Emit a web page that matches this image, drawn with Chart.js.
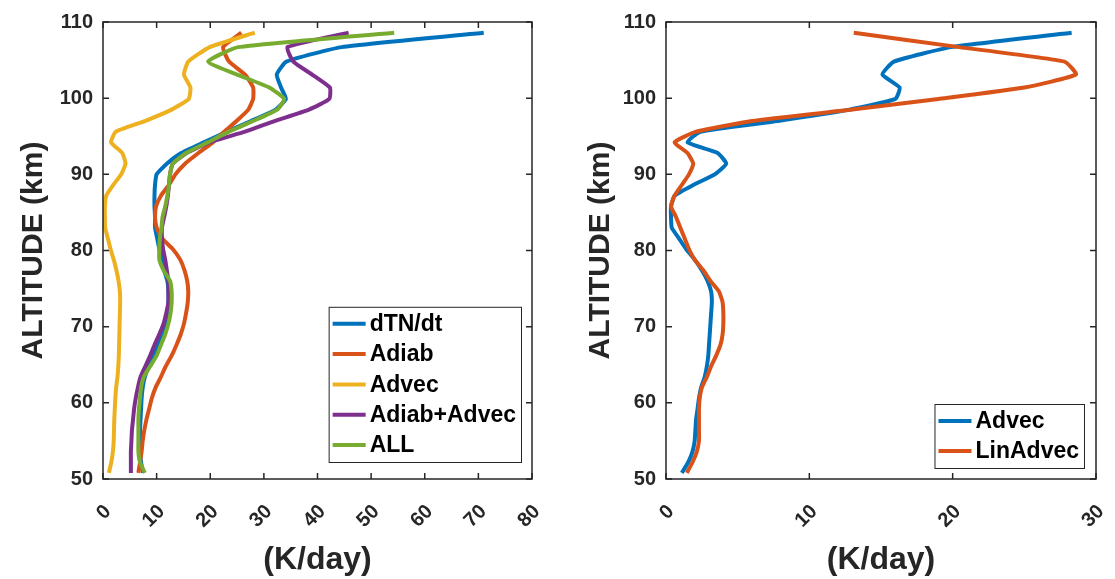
<!DOCTYPE html>
<html lang="en">
<head>
<meta charset="UTF-8">
<title>Heating terms</title>
<style>
  body { margin: 0; background: #fff; }
  .panel { position: absolute; top: 0; height: 579px; }
</style>
</head>
<body>
<div class="panel" style="left:0;width:557px;"><canvas id="leftChart"></canvas></div>
<div class="panel" style="left:557px;width:558px;"><canvas id="rightChart"></canvas></div>
<script src="https://cdn.jsdelivr.net/npm/chart.js"></script>
<script>
// altitude levels (km), top to bottom
const altitude = [108.6, 106.7, 104.8, 103.1, 101.4, 99.9, 98.5, 97.0, 95.6, 94.2,
  92.8, 91.4, 90.0, 88.6, 87.2, 85.8, 84.4, 83.0, 81.6, 80.2,
  78.8, 77.4, 76.0, 74.6, 73.2, 71.8, 70.4, 69.0, 67.6, 66.2,
  64.8, 63.4, 62.0, 60.6, 59.2, 57.8, 56.4, 55.0, 53.6, 52.2, 50.8];

// heating rates (K/day)
const dTNdt = [71.0, 44.5, 34.2, 32.4, 33.2, 34.1, 32.2, 27.6, 23.1, 18.8,
  14.6, 11.9, 10.0, 9.7, 9.6, 9.6, 9.7, 9.7, 10.1, 10.5,
  11.0, 11.4, 12.0, 12.2, 12.2, 12.0, 11.6, 11.0, 10.3, 9.4,
  8.5, 7.8, 7.4, 7.2, 7.1, 7.0, 6.9, 6.9, 6.9, 7.1, 7.5];
const adiab = [25.8, 22.4, 23.5, 26.5, 28.0, 28.0, 27.1, 24.9, 22.6, 20.5,
  17.8, 15.3, 13.5, 12.3, 10.8, 9.9, 9.7, 10.0, 11.0, 13.0,
  14.4, 15.2, 15.7, 15.9, 15.8, 15.5, 15.1, 14.5, 13.7, 12.8,
  11.7, 10.8, 9.8, 9.1, 8.6, 8.1, 7.7, 7.4, 7.2, 6.9, 6.6];
const advec = [28.3, 19.9, 15.9, 15.1, 16.3, 16.0, 12.8, 7.8, 2.4, 1.5,
  3.6, 4.2, 3.4, 1.9, 0.6, 0.35, 0.35, 0.4, 0.9, 1.4,
  2.0, 2.5, 2.9, 3.15, 3.2, 3.15, 3.1, 3.05, 3.0, 2.95,
  2.85, 2.7, 2.45, 2.3, 2.2, 2.1, 2.05, 2.0, 1.85, 1.55, 1.1];
const adiabAdvec = [45.8, 34.4, 35.5, 39.0, 42.3, 42.2, 38.4, 32.0, 26.5, 19.8,
  15.6, 13.0, 12.5, 12.3, 12.1, 11.8, 11.4, 11.0, 11.0, 11.2,
  11.6, 11.9, 12.2, 12.2, 12.2, 11.8, 11.3, 10.5, 9.6, 8.8,
  7.9, 7.0, 6.5, 6.1, 5.8, 5.6, 5.4, 5.3, 5.2, 5.2, 5.2];
const allTerms = [54.3, 25.2, 19.6, 25.0, 31.0, 33.8, 32.5, 28.0, 23.5, 19.5,
  15.5, 13.0, 12.5, 12.3, 12.0, 11.6, 11.1, 10.9, 10.6, 10.5,
  10.5, 11.3, 12.5, 12.8, 12.8, 12.6, 12.2, 11.6, 10.8, 10.0,
  8.8, 7.6, 7.1, 6.9, 6.7, 6.6, 6.6, 6.6, 6.6, 6.9, 7.8];
const linAdvec = [13.1, 20.45, 27.8, 28.6, 25.0, 19.0, 13.0, 6.0, 2.1, 0.6,
  1.5, 1.9, 1.6, 1.1, 0.6, 0.35, 0.7, 1.0, 1.3, 1.6,
  2.0, 2.6, 3.1, 3.7, 3.95, 4.0, 4.0, 3.95, 3.8, 3.5,
  3.15, 2.85, 2.5, 2.35, 2.3, 2.3, 2.3, 2.3, 2.15, 1.85, 1.45];

const leftLabels = ['dTN/dt', 'Adiab', 'Advec', 'Adiab+Advec', 'ALL'];
const rightLabels = ['Advec', 'LinAdvec'];
const xTicksLeft = [0, 10, 20, 30, 40, 50, 60, 70, 80];
const xTicksRight = [0, 10, 20, 30];
const yTicks = [50, 60, 70, 80, 90, 100, 110];

const colors = ['#0072BD', '#D95319', '#EDB120', '#7E2F8E', '#77AC30'];
const ink = '#262626';
const family = '"Liberation Sans", Arial, sans-serif';

function profile(vals) {
  return altitude.map((z, i) => ({ x: vals[i], y: z }));
}

function makeSets(labels, series) {
  return series.map((vals, i) => ({
    label: labels[i],
    data: profile(vals),
    borderColor: colors[i],
    backgroundColor: colors[i],
    borderWidth: 4,
    showLine: true,
    pointRadius: 0,
    tension: 0.15,
    order: series.length - i   // later series drawn on top
  }));
}

// box around the axes with inward ticks on all four sides
const boxFrame = {
  id: 'boxFrame',
  afterDatasetsDraw(chart) {
    const { ctx, chartArea: a, scales: { x, y } } = chart;
    const len = 6;
    ctx.save();
    ctx.strokeStyle = ink;
    ctx.lineWidth = 1.5;
    ctx.strokeRect(a.left, a.top, a.right - a.left, a.bottom - a.top);
    ctx.beginPath();
    x.ticks.forEach(t => {
      const px = x.getPixelForValue(t.value);
      ctx.moveTo(px, a.bottom); ctx.lineTo(px, a.bottom - len);
      ctx.moveTo(px, a.top); ctx.lineTo(px, a.top + len);
    });
    y.ticks.forEach(t => {
      const py = y.getPixelForValue(t.value);
      ctx.moveTo(a.left, py); ctx.lineTo(a.left + len, py);
      ctx.moveTo(a.right, py); ctx.lineTo(a.right - len, py);
    });
    ctx.stroke();
    ctx.restore();
  }
};

// legend box in the lower right corner of the axes
const cornerLegend = {
  id: 'cornerLegend',
  afterDraw(chart, args, opts) {
    const { ctx, chartArea: a } = chart;
    const sets = chart.data.datasets;
    ctx.save();
    ctx.font = 'bold ' + opts.fontSize + 'px ' + family;
    const textW = Math.max(...sets.map(d => ctx.measureText(d.label).width));
    const w = 4 + 33 + 4 + textW + 5;
    const h = 17 + (sets.length - 1) * opts.rowGap + 17;
    const left = a.right - opts.right - w;
    const top = a.bottom - opts.bottom - h;
    ctx.fillStyle = '#fff';
    ctx.fillRect(left, top, w, h);
    ctx.strokeStyle = ink;
    ctx.lineWidth = 1;
    ctx.strokeRect(left + 0.5, top + 0.5, w, h);
    ctx.textBaseline = 'middle';
    sets.forEach((d, i) => {
      const cy = top + 17 + i * opts.rowGap;
      ctx.strokeStyle = d.borderColor;
      ctx.lineWidth = 4;
      ctx.beginPath();
      ctx.moveTo(left + 4, cy);
      ctx.lineTo(left + 37, cy);
      ctx.stroke();
      ctx.fillStyle = '#000';
      ctx.fillText(d.label, left + 41, cy + 1);
    });
    ctx.restore();
  }
};

function makeOptions(xMax, xTicks, yTitlePad, padRight, yWidth, legendOpts) {
  return {
    responsive: true,
    maintainAspectRatio: false,
    animation: false,
    layout: { padding: { top: 18, right: padRight, left: 0, bottom: 0 } },
    plugins: {
      legend: { display: false },
      tooltip: { enabled: false },
      cornerLegend: legendOpts
    },
    scales: {
      x: {
        type: 'linear',
        min: 0, max: xMax,
        afterBuildTicks: s => { s.ticks = xTicks.map(v => ({ value: v })); },
        afterFit: s => { s.height = 100; s.paddingLeft = 0; s.paddingRight = 0; },
        grid: { display: false, drawTicks: false },
        border: { display: false },
        ticks: {
          color: ink,
          font: { family, size: 20, weight: 'bold' },
          minRotation: 45, maxRotation: 45,
          padding: 21,
          labelOffset: 5
        },
        title: {
          display: true,
          text: '(K/day)',
          color: ink,
          font: { family, size: 32, weight: 'bold' },
          padding: { top: 0, bottom: 0 }
        }
      },
      y: {
        type: 'linear',
        min: 50, max: 110,
        afterBuildTicks: s => { s.ticks = yTicks.map(v => ({ value: v })); },
        afterFit: s => { s.width = yWidth; },
        grid: { display: false, drawTicks: false },
        border: { display: false },
        ticks: {
          color: ink,
          font: { family, size: 20, weight: 'bold' },
          padding: 10
        },
        title: {
          display: true,
          text: 'ALTITUDE (km)',
          color: ink,
          font: { family, size: 30, weight: 'bold' },
          padding: { top: yTitlePad, bottom: 0 }
        }
      }
    }
  };
}

new Chart(document.getElementById('leftChart'), {
  type: 'scatter',
  data: { datasets: makeSets(leftLabels, [dTNdt, adiab, advec, adiabAdvec, allTerms]) },
  options: makeOptions(80, xTicksLeft, 16, 25, 103,
    { right: 11, bottom: 17, rowGap: 30.3, fontSize: 23 }),
  plugins: [boxFrame, cornerLegend]
});

new Chart(document.getElementById('rightChart'), {
  type: 'scatter',
  data: { datasets: makeSets(rightLabels, [advec, linAdvec]) },
  options: makeOptions(30, xTicksRight, 26, 19, 109,
    { right: 12, bottom: 11, rowGap: 30, fontSize: 23 }),
  plugins: [boxFrame, cornerLegend]
});
</script>
</body>
</html>
